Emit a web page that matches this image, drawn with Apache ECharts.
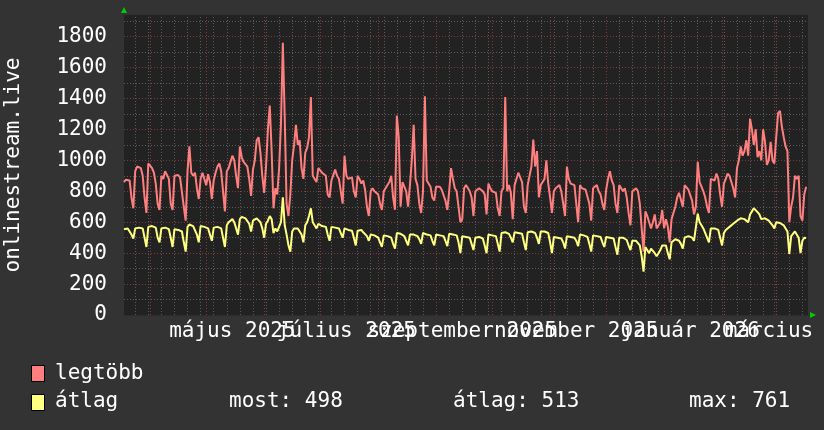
<!DOCTYPE html>
<html><head><meta charset="utf-8">
<script src="https://cdn.jsdelivr.net/npm/echarts@6/dist/echarts.min.js"></script>
<style>html,body{margin:0;padding:0;background:#333333;}#c{width:824px;height:430px;}</style>
</head><body><div id="c"></div>
<script>
// day 0 = 2025-03-18, one value per day
const startYear = 2025, startMonth = 2, startDay = 18;
const daySpan = 366;

const seriesNames = ['legtöbb', 'átlag'];

const maxValues = [
  860, 875, 880, 870, 760, 690,
  930, 960, 955, 950, 900, 760, 660,
  980, 970, 950, 920, 850, 720, 680,
  900, 880, 930, 940, 880, 720, 680,
  900, 910, 905, 890, 880, 700, 610,
  930, 1090, 920, 900, 920, 820, 750,
  880, 920, 930, 840, 910, 860, 750,
  870, 920, 960, 980, 930, 800, 670,
  930, 950, 990, 1030, 1000, 900, 820,
  1090, 1020, 990, 980, 960, 880, 770,
  940, 1000, 1130, 1150, 1050, 900, 790,
  960, 1200, 1355, 1060, 690, 820, 780,
  950, 1240, 1760, 1280, 720, 640, 780,
  1000, 1100, 1230, 1100, 1130, 950, 880,
  1050, 1080, 1150, 1410, 900, 880, 860,
  950, 940, 920, 910, 900, 780, 760,
  870, 880, 940, 900, 880, 800, 720,
  1030, 900, 880, 870, 890, 800, 760,
  900, 880, 850, 870, 810, 700, 640,
  800, 820, 800, 790, 780, 720, 680,
  800, 790, 840, 860, 900, 760, 680,
  1290, 1150, 700, 860, 830, 800, 700,
  840, 1000, 1230, 880, 840, 720, 660,
  800, 1415, 870, 860, 830, 760, 740,
  830, 840, 830, 810, 820, 740, 680,
  800, 950, 880, 820, 800, 700, 600,
  620, 820, 840, 830, 800, 760, 640,
  800, 810, 820, 830, 800, 780, 650,
  850, 820, 800, 800, 790, 690, 640,
  800, 820, 1410, 800, 840, 790, 620,
  840, 880, 920, 930, 860, 700, 660,
  840, 900, 960, 1135, 960, 1060, 760,
  840, 860, 880, 1000, 850, 760, 660,
  800, 820, 830, 840, 800, 720, 640,
  960, 880, 850, 860, 840, 720, 600,
  840, 820, 810, 810, 800, 720, 610,
  820, 830, 840, 800, 780, 720, 680,
  810, 880, 930, 870, 840, 720, 660,
  840, 830, 800, 820, 760, 660, 580,
  800, 790, 820, 800, 720, 560, 410,
  670, 640, 600, 560, 600, 650, 560,
  570, 600, 680, 560, 620, 570, 470,
  620, 660, 700, 760, 790, 800, 700,
  840, 830, 810, 800, 740, 650, 700,
  990, 860, 830, 800, 760, 700, 660,
  880, 890, 870, 915, 880, 780, 700,
  850, 880, 915, 900, 860, 820, 760,
  950, 1000, 1090, 1030, 1060, 1130, 1030,
  1270, 1200, 1100, 1200, 1020, 1060, 1000,
  1200, 1120, 970, 1000, 1120, 1000, 980,
  1150, 1305, 1320, 1220, 1150, 1090, 1060,
  600, 700, 760, 900, 880, 900, 640,
  610, 780, 830
];

const avgValues = [
  555, 565, 560, 555, 520, 495,
  560, 570, 565, 570, 560, 500, 440,
  570, 580, 575, 570, 565, 500, 470,
  560, 570, 565, 560, 555, 500, 440,
  555, 560, 550, 555, 540, 470, 410,
  570, 585, 580, 575, 570, 520, 470,
  575, 580, 570, 575, 560, 520, 480,
  565, 575, 570, 570, 560, 500, 440,
  580, 600, 610, 620, 600, 560, 520,
  620, 635, 630, 625, 620, 590, 540,
  610, 620, 625, 615, 600, 560, 500,
  590, 610, 640, 620, 530, 560, 540,
  540, 600, 761, 580, 520, 450, 410,
  540, 560, 570, 560, 555, 520, 470,
  580, 600, 640, 690, 600, 580, 560,
  590, 580, 575, 580, 570, 520, 480,
  570, 575, 565, 570, 560, 530, 500,
  560, 555, 550, 560, 545, 500, 450,
  545, 540, 550, 535, 530, 510, 480,
  520, 510, 515, 505, 500, 470, 440,
  515, 520, 510, 515, 500, 460, 430,
  530, 520, 525, 515, 510, 480, 450,
  520, 525, 520, 515, 510, 490, 460,
  530, 525, 520, 525, 515, 480, 450,
  520, 525, 515, 520, 510, 480, 445,
  525, 530, 520, 525, 515, 470, 400,
  510, 515, 505, 510, 500, 460, 420,
  500, 510, 505, 500, 495, 450, 400,
  520, 525, 515, 520, 510, 460, 410,
  530, 540, 535, 530, 525, 500, 470,
  535, 540, 530, 535, 525, 470, 420,
  535, 545, 540, 535, 530, 500, 460,
  540, 545, 540, 535, 530, 470, 400,
  505, 510, 500, 505, 495, 470, 430,
  510, 515, 505, 510, 500, 480, 445,
  520, 525, 515, 520, 505, 460, 410,
  515, 520, 510, 515, 505, 470, 440,
  505, 510, 500, 505, 495, 440, 390,
  500, 505, 500, 495, 485, 450, 420,
  480, 485, 480, 470, 450, 380, 280,
  440, 430, 400, 430, 420, 400, 380,
  400, 420, 450, 440, 450, 400, 360,
  470, 480, 490, 485, 480, 460, 430,
  500, 505, 510, 520, 500, 480, 490,
  655, 600, 580, 560, 550, 500, 470,
  560, 565, 560, 555, 550, 500, 450,
  530, 550, 560, 570, 580, 590, 600,
  610, 620, 625, 630, 620, 610, 600,
  650, 670, 690, 680, 665, 650, 620,
  630, 625, 620, 610, 600, 580, 560,
  600, 590, 595, 585, 580, 560, 540,
  395, 510, 520, 540, 530, 500, 400,
  480, 500, 498
];

const tickLabels = ['május 2025', 'július 2025', 'szeptember 2025', 'november 2025', 'január 2026', 'március 2026'];
const tickMonths = [[2025, 4], [2025, 6], [2025, 8], [2025, 10], [2026, 0], [2026, 2]];
const statLabels = ['most: 498', 'átlag: 513', 'max: 761'];
const yLabelStep = 200;
const yMinorStep = 100;
const yTop = 1940;

const DAY = 86400000;
const startMs = Date.UTC(startYear, startMonth, startDay);
const dayOf = (y, m, d) => Math.round((Date.UTC(y, m, d) - startMs) / DAY);
const labelPos = tickMonths.map(([y, m]) => dayOf(y, m, 1) + 14);

const monthLines = [];
for (let i = 1; i < 14; i++) {
  const d = dayOf(startYear, startMonth + i, 1);
  if (d > 0 && d < daySpan) monthLines.push(d);
}
const weekLines = [];
for (let d = dayOf(2025, 2, 24); d < daySpan; d += 7) weekLines.push(d);

const FONT = 'DejaVu Sans Mono';
const FONT_CSS = '21px "DejaVu Sans Mono"';
const RED = '#ff7f7f', YEL = '#ffff80';
const gridMinor = '#5c5c5c', gridMajor = '#7d3c3c';

const chart = echarts.init(document.getElementById('c'), null, {renderer: 'canvas'});
const staticGraphics = [
  {type: 'polygon', shape: {points: [[121, 13], [127, 13], [124, 7]]}, style: {fill: '#00cc00'}},
  {type: 'polygon', shape: {points: [[810, 312], [810, 318], [816, 315]]}, style: {fill: '#00cc00'}},
  {type: 'rect', shape: {x: 31.5, y: 365.5, width: 13, height: 16}, style: {fill: RED, stroke: '#000', lineWidth: 1}},
  {type: 'rect', shape: {x: 31.5, y: 394.5, width: 13, height: 16}, style: {fill: YEL, stroke: '#000', lineWidth: 1}},
  {type: 'text', x: 55, y: 374, style: {text: seriesNames[0], fill: '#fff', font: FONT_CSS, verticalAlign: 'middle'}},
  {type: 'text', x: 55, y: 402, style: {text: seriesNames[1], fill: '#fff', font: FONT_CSS, verticalAlign: 'middle'}},
  {type: 'text', x: 229, y: 402, style: {text: statLabels[0], fill: '#fff', font: FONT_CSS, verticalAlign: 'middle'}},
  {type: 'text', x: 453, y: 402, style: {text: statLabels[1], fill: '#fff', font: FONT_CSS, verticalAlign: 'middle'}},
  {type: 'text', x: 689, y: 402, style: {text: statLabels[2], fill: '#fff', font: FONT_CSS, verticalAlign: 'middle'}}
];

chart.setOption({
  backgroundColor: '#333333',
  animation: false,
  grid: {left: 124, top: 15, width: 684, height: 300, show: true, backgroundColor: '#222222', borderWidth: 0,
         containLabel: false, outerBoundsMode: 'none'},
  xAxis: {
    type: 'value', min: 0, max: daySpan,
    splitLine: {show: false}, axisTick: {show: false},
    axisLine: {show: true, lineStyle: {color: '#2c2c2c', width: 1}},
    axisLabel: {show: false}
  },
  yAxis: {
    type: 'value', min: 0, max: yTop, interval: yMinorStep,
    name: 'onlinestream.live', nameLocation: 'middle', nameRotate: 90, nameGap: 100,
    nameTextStyle: {color: '#ffffff', fontFamily: FONT, fontSize: 21},
    axisLine: {show: false}, axisTick: {show: false},
    axisLabel: {formatter: v => (v % yLabelStep === 0 ? String(v) : ''), color: '#ffffff', fontFamily: FONT, fontSize: 21, margin: 17},
    splitLine: {show: true, showMaxLine: false, lineStyle: {color: [gridMajor, gridMinor], type: [1, 2], width: 1}}
  },
  series: [
    {
      type: 'line', data: [], z: 1, silent: true,
      markLine: {
        silent: true, symbol: ['none', 'none'], label: {show: false}, animation: false, z: 1,
        data: weekLines.map(d => ({xAxis: d, lineStyle: {color: gridMinor, type: [1, 2], width: 1}}))
          .concat(monthLines.map(d => ({xAxis: d, lineStyle: {color: gridMajor, type: [1, 2], width: 1}})))
      }
    },
    {
      name: seriesNames[0], type: 'line', z: 3, showSymbol: false, symbol: 'none',
      data: maxValues.map((v, i) => [i, v]),
      lineStyle: {color: RED, width: 2}, itemStyle: {color: RED}
    },
    {
      name: seriesNames[1], type: 'line', z: 4, showSymbol: false, symbol: 'none',
      data: avgValues.map((v, i) => [i, v]),
      lineStyle: {color: YEL, width: 2}, itemStyle: {color: YEL}
    }
  ],
  graphic: staticGraphics
});

// x-axis month labels placed through the axis scale (overlapping, like the original)
const axisLabelGraphics = labelPos.map((d, i) => {
  const px = chart.convertToPixel({xAxisIndex: 0}, d);
  const py = chart.convertToPixel({yAxisIndex: 0}, 0);
  return {type: 'text', x: px, y: py + 17, style: {text: tickLabels[i], fill: '#fff', font: FONT_CSS, align: 'center', verticalAlign: 'middle'}};
});
chart.setOption({graphic: staticGraphics.concat(axisLabelGraphics)});
</script></body></html>
